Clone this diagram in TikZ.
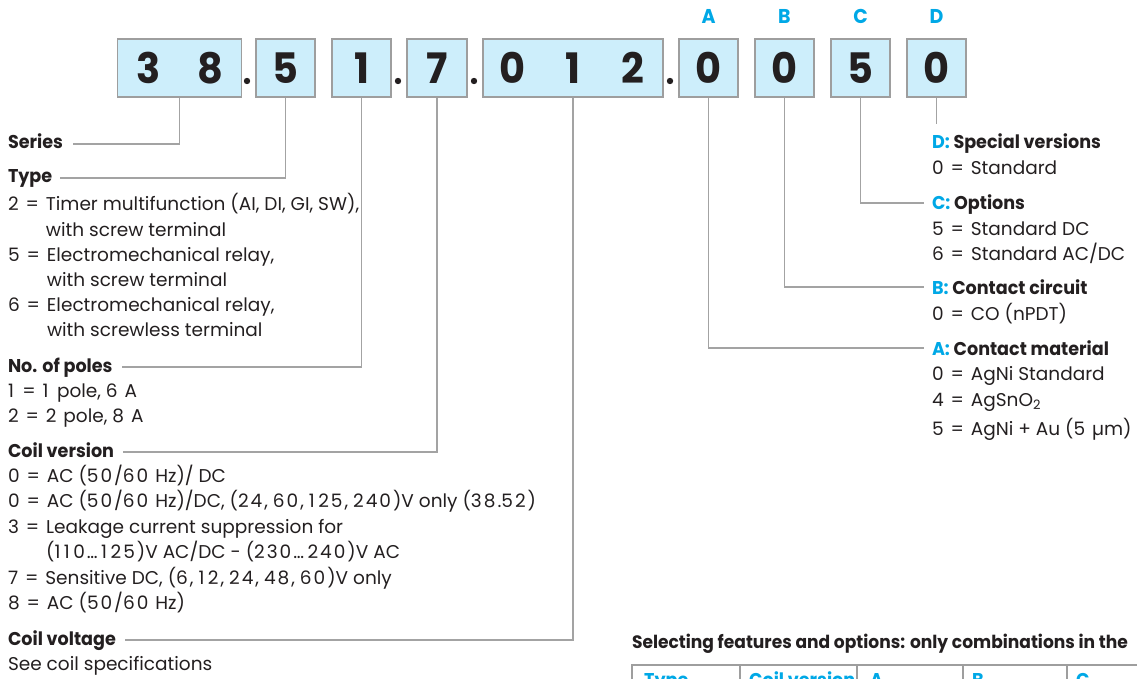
\documentclass[tikz,border=0pt]{standalone}
\usepackage{fontspec}
\setmainfont{Poppins}[BoldFeatures={FakeStretch=0.95}]
\definecolor{ink}{HTML}{231F20}
\definecolor{cyanA}{HTML}{00A8E6}
\definecolor{boxfill}{HTML}{CDEEFB}
\definecolor{boxline}{HTML}{9E9E9E}
\definecolor{connline}{HTML}{A3A3A3}
\newcommand\txtsz{\fontsize{18.5bp}{22bp}\selectfont}
\newcommand\nowidefig{\XeTeXinterchartokenstate=0 }
% widen digits, '=' and ellipsis (reference face has wide tabular figures)
\newXeTeXintercharclass\wideclass
\newXeTeXintercharclass\oneclass
\XeTeXcharclass`0=\wideclass
\XeTeXcharclass`2=\wideclass
\XeTeXcharclass`3=\wideclass
\XeTeXcharclass`4=\wideclass
\XeTeXcharclass`5=\wideclass
\XeTeXcharclass`6=\wideclass
\XeTeXcharclass`7=\wideclass
\XeTeXcharclass`8=\wideclass
\XeTeXcharclass`9=\wideclass
\XeTeXcharclass`\==\wideclass
\XeTeXcharclass`1=\oneclass
\XeTeXcharclass"2026=\oneclass
\XeTeXinterchartoks \wideclass 0={\kern2bp\relax}
\XeTeXinterchartoks \wideclass 4095={\kern2bp\relax}
\XeTeXinterchartoks \wideclass \wideclass={\kern2bp\relax}
\XeTeXinterchartoks \wideclass \oneclass={\kern2bp\relax}
\XeTeXinterchartoks \oneclass 0={\kern3.5bp\relax}
\XeTeXinterchartoks \oneclass 4095={\kern3.5bp\relax}
\XeTeXinterchartoks \oneclass \oneclass={\kern3.5bp\relax}
\XeTeXinterchartoks \oneclass \wideclass={\kern3.5bp\relax}
\begin{document}
\XeTeXinterchartokenstate=1
\begin{tikzpicture}[x=1bp,y=-1bp,
 lbl/.style={anchor=base west, inner sep=0pt, outer sep=0pt, text=ink, font=\txtsz},
 hdr/.style={lbl, font=\txtsz\bfseries},
 digitbox/.style={draw=boxline, fill=boxfill, line width=1.3bp, minimum height=58bp, inner sep=0pt, text=ink, font=\nowidefig\fontsize{42bp}{42bp}\selectfont\bfseries},
 conn/.style={draw=connline, line width=1.3bp},
 letter/.style={anchor=base, inner sep=0pt, text=cyanA, font=\fontsize{20bp}{20bp}\selectfont\bfseries},
 tbl/.style={draw=boxline, line width=1.6bp},
 thd/.style={anchor=base west, inner sep=0pt, text=cyanA, font=\txtsz\bfseries}]
\useasboundingbox (0,0) rectangle (1137,679);
\clip (0,0) rectangle (1137,679);
% code boxes
\node[digitbox, minimum width=119bp] (b38) at (179.5,68) {\makebox[62bp]{3}\makebox[62bp]{8}};
\node[digitbox, minimum width=59bp] (b5) at (285.5,68) {5};
\node[digitbox, minimum width=59bp] (b1) at (361.5,68) {1};
\node[digitbox, minimum width=60bp] (b7) at (437,68) {7};
\node[digitbox, minimum width=180bp] (b012) at (573,68) {\makebox[60bp]{0}\makebox[60bp]{1}\makebox[60bp]{2}};
\node[digitbox, minimum width=59bp] (bA) at (708.5,68) {0};
\node[digitbox, minimum width=59bp] (bB) at (784.5,68) {0};
\node[digitbox, minimum width=59bp] (bC) at (860.5,68) {5};
\node[digitbox, minimum width=59bp] (bD) at (936.5,68) {0};
\foreach \x in {247,398,474,670} \fill[ink] (\x,81) circle[radius=3.2bp];
% letters
\node[letter] (lA) at (708.5,24) {A};
\node[letter] (lB) at (784.5,24) {B};
\node[letter] (lC) at (860.5,24) {C};
\node[letter] (lD) at (936.5,24) {D};
% left column
\node[hdr] (series) at (8,149) {Series};
\node[hdr] (type) at (8,183) {Type};
\node[lbl] (t2) at (8,211) {2 = Timer multifunction (AI, DI, GI, SW),};
\node[lbl] (t2b) at (8,236) {\phantom{2 = }with screw terminal};
\node[lbl] (t5) at (8,261) {5 = Electromechanical relay,};
\node[lbl] (t5b) at (8,286) {\phantom{5 = }with screw terminal};
\node[lbl] (t6) at (8,311) {6 = Electromechanical relay,};
\node[lbl] (t6b) at (8,336) {\phantom{6 = }with screwless terminal};
\node[hdr] (poles) at (8,372) {No. of poles};
\node[lbl] (p1) at (8,397) {1 = 1 pole, 6 A};
\node[lbl] (p2) at (8,422) {2 = 2 pole, 8 A};
\node[hdr] (coilv) at (8,457) {Coil version};
\node[lbl] (c0) at (8,482) {0 = AC (50/60 Hz)/ DC};
\node[lbl] (c0b) at (8,507) {0 = AC (50/60 Hz)/DC, (24, 60, 125, 240)V only (38.52)};
\node[lbl] (c3) at (8,533) {3 = Leakage current suppression for};
\node[lbl] (c3b) at (8,558) {\phantom{3 = }(110…125)V AC/DC - (230…240)V AC};
\node[lbl] (c7) at (8,584) {7 = Sensitive DC, (6, 12, 24, 48, 60)V only};
\node[lbl] (c8) at (8,609) {8 = AC (50/60 Hz)};
\node[hdr] (coilu) at (8,645) {Coil voltage};
\node[lbl] (cu) at (8,670) {See coil specifications};
% right column
\node[hdr] (dh) at (932,149) {\textcolor{cyanA}{D:} Special versions};
\node[lbl] (d0) at (932,175) {0 = Standard};
\node[hdr] (ch) at (932,210) {\textcolor{cyanA}{C:} Options};
\node[lbl] (c5) at (932,235) {5 = Standard DC};
\node[lbl] (c6) at (932,260) {6 = Standard AC/DC};
\node[hdr] (bh) at (932,294) {\textcolor{cyanA}{B:} Contact circuit};
\node[lbl] (bo) at (932,320) {0 = CO (nPDT)};
\node[hdr] (ah) at (932,355) {\textcolor{cyanA}{A:} Contact material};
\node[lbl] (a0) at (932,380) {0 = AgNi Standard};
\node[lbl] (a4) at (932,406) {4 = AgSnO\textsubscript{2}};
\node[lbl] (a5) at (932,435) {5 = AgNi + Au (5 µm)};
% connectors
\draw[conn] (b38.south) |- ([xshift=10bp,yshift=5bp]series.base east);
\draw[conn] (b5.south) |- ([xshift=8bp,yshift=5bp]type.base east);
\draw[conn] (b1.south) |- ([xshift=9bp,yshift=5bp]poles.base east);
\draw[conn] (b7.south) |- ([xshift=9bp,yshift=5bp]coilv.base east);
\draw[conn] (b012.south) |- ([xshift=9bp,yshift=5bp]coilu.base east);
\coordinate (dEnd) at ([yshift=25bp]bD.south |- dh.base);
\draw[conn] (bD.south) -- (dEnd);
\draw[conn] (bC.south) |- ([xshift=-8bp,yshift=7bp]ch.base west);
\draw[conn] (bB.south) |- ([xshift=-8bp,yshift=7bp]bh.base west);
\draw[conn] (bA.south) |- ([xshift=-8bp,yshift=7bp]ah.base west);
% table
\node[hdr, font=\fontsize{18bp}{22bp}\selectfont\bfseries] (seltitle) at (632,648) {Selecting features and options: only combinations in the};
\draw[tbl] (632,690) -- (632,665) -- (1140,665);
\foreach \x in {740,857,963,1067} \draw[tbl] (\x,665) -- (\x,690);
\node[thd] (hType) at (644,686) {Type};
\node[thd] (hCoil) at (749,686) {Coil version};
\node[thd] (hA) at (870,686) {A};
\node[thd] (hB) at (972,686) {B};
\node[thd] (hC) at (1076,686) {C};
\end{tikzpicture}
\end{document}
